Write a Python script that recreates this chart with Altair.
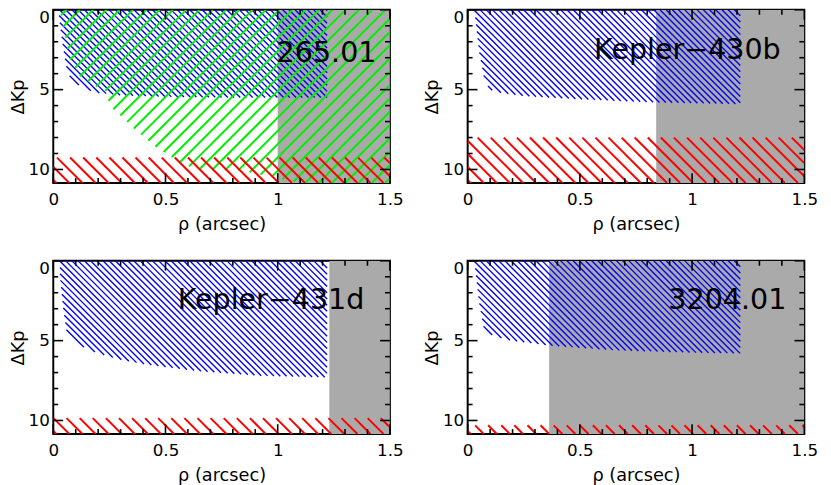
import numpy as np
import pandas as pd
import altair as alt

# ---------------- data ----------------
labels = ["265.01", "Kepler\u2212430b", "Kepler\u2212431d", "3204.01"]
label_rho = [1.44, 1.395, 1.386, 1.42]     # right edge of the label
label_dkp = [3.27, 3.1, 3.0, 3.0]          # baseline of the label

gray_start = [1.0, 0.84, 1.23, 0.363]
gray_end = [1.5, 1.5, 1.5, 1.5]

red_top = [9.25, 8.0, 9.85, 10.3]

blue_rho = [
    [0.025, 0.04, 0.06, 0.075, 0.1, 0.15, 0.2, 0.3, 0.5, 0.8, 1.0, 1.22],
    [0.03, 0.05, 0.075, 0.1, 0.15, 0.25, 0.5, 0.84, 1.215],
    [0.03, 0.045, 0.06, 0.1, 0.2, 0.3, 0.42, 0.64, 0.93, 1.22],
    [0.03, 0.05, 0.073, 0.1, 0.175, 0.36, 0.65, 1.0, 1.215],
]
blue_dkp = [
    [0.3, 2.0, 3.7, 4.2, 4.6, 5.0, 5.2, 5.35, 5.45, 5.5, 5.5, 5.5],
    [0.0, 2.5, 4.4, 5.0, 5.2, 5.4, 5.6, 5.8, 5.9],
    [1.0, 3.0, 4.5, 5.2, 5.8, 6.2, 6.5, 6.9, 7.2, 7.3],
    [0.0, 2.5, 4.3, 4.6, 4.95, 5.3, 5.6, 5.75, 5.8],
]

# second (green) sensitivity curve, only in the first panel
green_rho = [0.03, 0.07, 0.12, 0.2, 0.231, 0.246, 0.268, 0.319, 0.363, 0.406,
             0.457, 0.53, 0.575, 0.64, 0.83, 0.95, 1.05, 1.1, 1.5]
green_dkp = [0.0, 3.0, 4.2, 4.9, 5.08, 5.7, 6.25, 6.87, 7.49, 8.0,
             8.6, 9.24, 9.65, 10.0, 10.06, 10.4, 10.7, 10.85, 10.85]
has_green = [True, False, False, False]

x_major = [0.0, 0.5, 1.0, 1.5]
x_minor = [0.1, 0.2, 0.3, 0.4, 0.6, 0.7, 0.8, 0.9, 1.1, 1.2, 1.3, 1.4]
y_major = [0, 5, 10]
y_minor = [1, 2, 3, 4, 6, 7, 8, 9]

# ---------------- styling / geometry ----------------
W, H = 342, 176
XMAX, YMAX = 1.5, 10.85
SX, SY = W / XMAX, H / YMAX
FONT = "DejaVu Sans"
MAJOR_LEN, MINOR_LEN = 10, 5


def hatch(x_lo, x_hi, top_fn, bot_fn, step, direction):
    """Clip 45-degree hatch lines (in screen space) to a region."""
    X = np.linspace(x_lo, x_hi, int((x_hi - x_lo) / 0.0004) + 2)
    px = X * SX
    top = top_fn(X) * SY
    bot = bot_fn(X) * SY
    if direction == "back":      # "\" on screen
        cvals = np.concatenate([top - px, bot - px])
    else:                        # "/" on screen
        cvals = np.concatenate([top + px, bot + px])
    cmin, cmax = cvals.min(), cvals.max()
    start = np.floor(cmin / step) * step
    segs = []
    for c in np.arange(start, cmax + step, step):
        py = c + px if direction == "back" else c - px
        inside = (py >= top) & (py <= bot) & (py >= 0) & (py <= H)
        edges = np.flatnonzero(np.diff(np.concatenate([[0], inside.astype(int), [0]])))
        for s, e in zip(edges[::2], edges[1::2]):
            if e - 1 > s:
                segs.append((X[s], py[s] / SY, X[e - 1], py[e - 1] / SY))
    return segs


XS = alt.Scale(domain=[0, XMAX], nice=False, zero=False)
YS = alt.Scale(domain=[0, YMAX], nice=False, zero=False, reverse=True)
XAX = alt.Axis(values=x_major, format="~g", ticks=False, tickSize=0, domain=False,
               grid=False, labelFlush=False, labelOverlap=False, labelPadding=9,
               title="\u03c1 (arcsec)", titlePadding=8)
YAX = alt.Axis(values=y_major, format="d", ticks=False, tickSize=0, domain=False,
               grid=False, labelFlush=True, labelOverlap=False, labelPadding=4,
               title="\u0394Kp", titlePadding=1)


def X(f):
    return alt.X(f, type="quantitative", scale=XS, axis=XAX)


def Y(f):
    return alt.Y(f, type="quantitative", scale=YS, axis=YAX)


def tick_layers():
    out = []
    for vals, ln in ((x_major, MAJOR_LEN), (x_minor, MINOR_LEN)):
        df = pd.DataFrame({"v": vals})
        for y0, y1 in ((0, ln), (H, H - ln)):
            out.append(alt.Chart(df).mark_rule(color="black", strokeWidth=1.6).encode(
                x=X("v"), y=alt.value(y0), y2=alt.value(y1)))
    for vals, ln in ((y_major, MAJOR_LEN), (y_minor, MINOR_LEN)):
        df = pd.DataFrame({"v": vals})
        for x0, x1 in ((0, ln), (W, W - ln)):
            out.append(alt.Chart(df).mark_rule(color="black", strokeWidth=1.6).encode(
                y=Y("v"), x=alt.value(x0), x2=alt.value(x1)))
    return out


def panel(i):
    gdf = pd.DataFrame({"g0": [gray_start[i]], "g1": [gray_end[i]]})
    gray = alt.Chart(gdf).mark_rect(color="#aaaaaa", clip=True).encode(
        x=X("g0"), x2="g1", y=alt.value(0), y2=alt.value(H))

    rows = []
    bx, by = blue_rho[i], blue_dkp[i]
    for s in hatch(bx[0], bx[-1], lambda x: np.zeros_like(x),
                   lambda x, bx=bx, by=by: np.interp(x, bx, by), 6.3, "back"):
        rows.append(s + ("#0000ff", 1.4))
    if has_green[i]:
        for s in hatch(green_rho[0], green_rho[-1], lambda x: np.zeros_like(x),
                       lambda x: np.interp(x, green_rho, green_dkp), 13.5, "fwd"):
            rows.append(s + ("#00ee00", 2.0))
    rt = red_top[i]
    for s in hatch(0.0, XMAX, lambda x, rt=rt: np.full_like(x, rt),
                   lambda x: np.full_like(x, YMAX), 13.3, "back"):
        rows.append(s + ("#ff0000", 2.0))
    hdf = pd.DataFrame(rows, columns=["x1", "y1", "x2", "y2", "c", "w"])
    hatches = alt.Chart(hdf).mark_rule(clip=True, strokeCap="butt").encode(
        x=X("x1"), y=Y("y1"), x2="x2", y2="y2",
        color=alt.Color("c:N", scale=None),
        strokeWidth=alt.StrokeWidth("w:Q", scale=None))

    tdf = pd.DataFrame({"tx": [label_rho[i]], "ty": [label_dkp[i]], "t": [labels[i]]})
    text = alt.Chart(tdf).mark_text(align="right", baseline="alphabetic", font=FONT,
                                    fontSize=29, color="black").encode(
        x=X("tx"), y=Y("ty"), text="t:N")

    return alt.layer(gray, hatches, text, *tick_layers()).properties(width=W, height=H)


chart = alt.concat(*[panel(i) for i in range(4)], columns=2, spacing=79,
                   bounds="flush").properties(
    padding={"left": 0, "top": -4, "right": 4, "bottom": 0},
    background="white",
).configure_view(stroke="black", strokeWidth=2).configure_axis(
    labelFont=FONT, labelFontSize=17, labelColor="black",
    titleFont=FONT, titleFontSize=18, titleFontWeight="normal", titleColor="black",
)

chart.save("out.html", embed_options={"renderer": "svg", "actions": False})
